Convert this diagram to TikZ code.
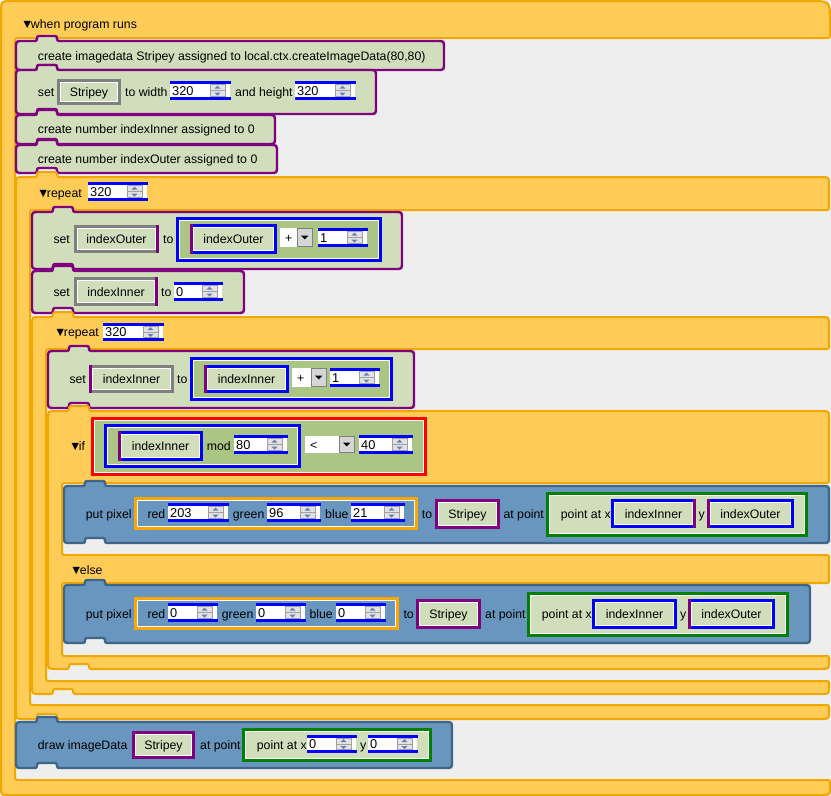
\documentclass[tikz,border=0pt]{standalone}
\usepackage{fontspec}
\setmainfont{Liberation Sans}
\newfontfamily\lsans{Liberation Sans}
\newcommand\blkfont{\lsans\fontsize{12.3}{14}\selectfont}
\newcommand\numfont{\lsans\fontsize{12.8}{14}\selectfont}
\newcommand\trifont{\lsans\fontsize{12.5}{14}\selectfont}
\newcommand\tri{{\trifont ▼\kern-2.6pt}}

\definecolor{bgc}{HTML}{EEEEEE}
\definecolor{orfill}{HTML}{FFCC57}
\definecolor{orline}{HTML}{F0A800}
\definecolor{stfill}{HTML}{D0DEBC}
\definecolor{purp}{HTML}{800080}
\definecolor{blfill}{HTML}{6896BE}
\definecolor{blline}{HTML}{3F6588}
\definecolor{opfill}{HTML}{AAC584}
\definecolor{sgray}{HTML}{808080}
\definecolor{sblue}{HTML}{0000FF}
\definecolor{sred}{HTML}{FF0000}
\definecolor{sorange}{HTML}{FFA500}
\definecolor{sgreen}{HTML}{008000}
\definecolor{arrc}{HTML}{6A7DB4}
\definecolor{btnfill}{HTML}{E2E2E2}
\definecolor{btnline}{HTML}{A0A0A0}
\definecolor{ddfill}{HTML}{D6D6D6}

% statement block with top tab and bottom notch: style, x1, y1, x2, y2
\newcommand\stmt[5]{%
  \draw[#1] (#2,{#3+9}) .. controls (#2,#3) .. ({#2+9},#3)
    -- ({#2+21},#3) -- ({#2+21},{#3-5}) -- ({#2+41},{#3-5}) -- ({#2+41},#3)
    -- ({#4-9},#3) .. controls (#4,#3) .. (#4,{#3+9})
    -- (#4,{#5-9}) .. controls (#4,#5) .. ({#4-9},#5)
    -- ({#2+41},#5) -- ({#2+41},{#5-5}) -- ({#2+21},{#5-5}) -- ({#2+21},#5)
    -- ({#2+9},#5) .. controls (#2,#5) .. (#2,{#5-9}) -- cycle;}

% C-shaped loop block: L, T, R, arm inner x, header bottom, footer top, bottom
\newcommand\cblk[7]{%
  \draw[orblk] (#1,{#2+10}) .. controls (#1,#2) .. ({#1+10},#2)
    -- ({#1+21},#2) -- ({#1+21},{#2-5}) -- ({#1+41},{#2-5}) -- ({#1+41},#2)
    -- ({#3-10},#2) .. controls (#3,#2) .. (#3,{#2+10}) -- (#3,#5)
    -- ({#4+7},#5) .. controls (#4,#5) .. (#4,{#5+7})
    -- (#4,{#6-7}) .. controls (#4,#6) .. ({#4+7},#6)
    -- (#3,#6) -- (#3,{#7-10}) .. controls (#3,#7) .. ({#3-10},#7)
    -- ({#1+41},#7) -- ({#1+41},{#7-5}) -- ({#1+21},{#7-5}) -- ({#1+21},#7)
    -- ({#1+10},#7) .. controls (#1,#7) .. (#1,{#7-10}) -- cycle;}

% framed slot with a white inner rule: x1, y1, x2, y2, frame colour, fill
\newcommand\ibox[6]{%
  \draw[draw=#5, fill=#6, line width=3] ({#1+1.5},{#2+1.5}) rectangle ({#3-1.5},{#4-1.5});
  \draw[white, line width=1] ({#1+3.5},{#2+3.5}) rectangle ({#3-3.5},{#4-3.5});}

% variable slot: name, x1, y1, x2, y2, frame colour, text
\newcommand\varb[7]{%
  \ibox{#2}{#3}{#4}{#5}{#6}{stfill}
  \node[ctr] (#1) at ({(#2+#4)/2},{(#3+#5)/2+4.5}) {#7};}
\newcommand\purl[3]{\draw[purp, line width=3] ({#1+1.5},#2) -- ({#1+1.5},#3);}
\newcommand\purr[3]{\draw[purp, line width=3] ({#1-1.5},#2) -- ({#1-1.5},#3);}

% number spinner: name, x1, y1, x2, y2, value
\newcommand\spin[6]{%
  \fill[white] (#2,#3) rectangle ({#4-1},#5);
  \draw[fill=btnfill, draw=btnline, line width=0.8] ({#4-21},{#3+3.5}) rectangle ({#4-6},{#5-3.5});
  \draw[btnline, line width=0.8] ({#4-21},{(#3+#5)/2}) -- ({#4-6},{(#3+#5)/2});
  \fill[arrc] ({#4-16.5},{(#3+#5)/2-2}) -- ({#4-10.5},{(#3+#5)/2-2}) -- ({#4-13.5},{(#3+#5)/2-5}) -- cycle;
  \fill[arrc] ({#4-16.5},{(#3+#5)/2+2}) -- ({#4-10.5},{(#3+#5)/2+2}) -- ({#4-13.5},{(#3+#5)/2+5}) -- cycle;
  \fill[sblue] (#2,#3) rectangle (#4,{#3+3});
  \fill[sblue] (#2,{#5-3}) rectangle (#4,#5);
  \node[numl] (#1) at ({#2+2},{(#3+#5)/2+4.7}) {#6};}

% operator drop-down: name, x1, y1, x2, y2, symbol
\newcommand\drop[6]{%
  \fill[white] (#2,#3) rectangle (#4,#5);
  \draw[fill=ddfill, draw=sgray, line width=1] ({#4-16},{#3+0.5}) rectangle ({#4-0.5},{#5-0.5});
  \fill[black] ({#4-11.8},{(#3+#5)/2-1.8}) -- ({#4-4.7},{(#3+#5)/2-1.8}) -- ({#4-8.25},{(#3+#5)/2+1.8}) -- cycle;
  \node[lbl] (#1) at ({#2+5},{(#3+#5)/2+4.5}) {#6};}

% text label: name, x, y of text centre, text
\newcommand\lab[4]{\node[lbl] (#1) at (#2,{#3+4.5}) {#4};}

\begin{document}
\begin{tikzpicture}[x=1pt, y=-1pt,
  orblk/.style={fill=orfill, draw=orline, line width=2, rounded corners=2},
  stblk/.style={fill=stfill, draw=purp, line width=2.4, rounded corners=2},
  blblk/.style={fill=blfill, draw=blline, line width=2.4, rounded corners=2},
  lbl/.style={anchor=base west, inner sep=0, font=\blkfont},
  numl/.style={anchor=base west, inner sep=0, font=\numfont},
  ctr/.style={anchor=base, inner sep=0, font=\blkfont}]
\useasboundingbox (0,0) rectangle (831,796);
\fill[bgc] (0,0) rectangle (831,796);

% ---- hat block: when program runs
\draw[orblk] (1,15) .. controls (1,1) .. (15,1) -- (808,1) .. controls (830,1) .. (830,23)
  -- (830,38) -- (22,38) .. controls (15,38) .. (15,45) -- (15,773) .. controls (15,780) .. (22,780)
  -- (830,780) -- (830,785) .. controls (830,795) .. (820,795) -- (11,795) .. controls (1,795) .. (1,785) -- cycle;
\lab{hat}{21}{24}{\tri when program runs}

% ---- declarations
\stmt{stblk}{16}{41}{444}{70}
\lab{mkimg}{37.7}{55.5}{create imagedata Stripey assigned to local.ctx.createImageData(80,80)}

\stmt{stblk}{16}{70}{376}{114}
\lab{setw}{37.7}{92}{set}
\varb{setwvar}{57}{79}{121}{105}{sgray}{Stripey}
\lab{setwto}{125}{92}{to width}
\spin{wval}{170}{81}{231}{100}{320}
\lab{seth}{235}{92}{and height}
\spin{hval}{295}{81}{356}{100}{320}

\stmt{stblk}{16}{115}{275}{144}
\lab{mkinner}{37.7}{129}{create number indexInner assigned to 0}
\stmt{stblk}{16}{145}{277}{173}
\lab{mkouter}{37.7}{159}{create number indexOuter assigned to 0}

% ---- outer repeat
\cblk{16}{177}{829}{30}{210}{705}{719}
\lab{rep1}{37}{193}{\tri repeat}
\spin{rep1n}{88}{182}{148}{201}{320}

\stmt{stblk}{32}{212}{402}{269}
\lab{so}{53.3}{239}{set}
\varb{sovar}{74}{225}{159}{253}{sgray}{indexOuter}
\purr{159}{225}{253}
\lab{soto}{163}{239}{to}
\ibox{176}{217}{382}{262}{sblue}{opfill}
\varb{soarg}{190}{224}{277}{254}{sblue}{indexOuter}
\purl{190}{224}{254}
\drop{soop}{280}{228}{313}{247}{+}
\spin{soinc}{318}{228}{368}{247}{1}

\stmt{stblk}{32}{271}{244}{313}
\lab{si}{53.3}{291.5}{set}
\varb{sivar}{74}{277}{158}{306}{sgray}{indexInner}
\purr{158}{277}{306}
\lab{sito}{161}{291.5}{to}
\spin{sival}{174}{282}{223}{301}{0}

% ---- inner repeat
\cblk{32}{317}{829}{46}{349}{681}{694}
\lab{rep2}{54}{332}{\tri repeat}
\spin{rep2n}{103}{323}{164}{341}{320}

\stmt{stblk}{48}{351}{414}{408}
\lab{sii}{69.3}{378.5}{set}
\varb{siivar}{89}{365}{174}{393}{sgray}{indexInner}
\purl{89}{365}{393}
\lab{siito}{177}{378.5}{to}
\ibox{190}{357}{393}{401}{sblue}{opfill}
\varb{siiarg}{204}{365}{289}{393}{sblue}{indexInner}
\purl{204}{365}{393}
\drop{siiop}{292}{368}{327}{387}{+}
\spin{siiinc}{330}{368}{380}{387}{1}

% ---- if / else block
\draw[orblk] (48,421) .. controls (48,411) .. (58,411)
  -- (69,411) -- (69,406) -- (89,406) -- (89,411)
  -- (819,411) .. controls (829,411) .. (829,421) -- (829,483)
  -- (69,483) .. controls (62,483) .. (62,490) -- (62,548) .. controls (62,555) .. (69,555)
  -- (829,555) -- (829,583)
  -- (69,583) .. controls (62,583) .. (62,590) -- (62,649) .. controls (62,656) .. (69,656)
  -- (829,656) -- (829,659) .. controls (829,669) .. (819,669)
  -- (89,669) -- (89,664) -- (69,664) -- (69,669)
  -- (58,669) .. controls (48,669) .. (48,659) -- cycle;
\lab{iflab}{69}{445.5}{\tri if}
\ibox{91}{417}{427}{476}{sred}{opfill}
\ibox{104}{424}{301}{468}{sblue}{opfill}
\varb{condvar}{118}{431}{203}{461}{sblue}{indexInner}
\purl{118}{431}{461}
\lab{modlab}{206.7}{446}{mod}
\spin{modn}{234}{435}{288}{454}{80}
\drop{cmpop}{305}{436}{355}{453}{<}
\spin{cmpn}{359}{435}{413}{454}{40}
\lab{elselab}{70}{569.5}{\tri else}

% ---- put pixel (then branch)
\stmt{blblk}{64}{486}{829}{543}
\lab{pp1}{85.7}{514}{put pixel}
\ibox{134}{497}{418}{530}{sorange}{blfill}
\lab{pp1r}{147.3}{514}{red}
\spin{pp1rv}{168}{503}{229}{522}{203}
\lab{pp1g}{232.7}{514}{green}
\spin{pp1gv}{267}{503}{321}{522}{96}
\lab{pp1b}{325}{514}{blue}
\spin{pp1bv}{351}{503}{405}{522}{21}
\lab{pp1to}{421.7}{514}{to}
\varb{pp1img}{435}{499}{500}{529}{purp}{Stripey}
\lab{pp1at}{503.3}{514}{at point}
\ibox{546}{492}{808}{537}{sgreen}{stfill}
\lab{pp1pt}{560.7}{514}{point at x}
\varb{pp1x}{611}{499}{696}{528}{sblue}{indexInner}
\purr{696}{499}{528}
\lab{pp1y}{698.5}{514}{y}
\varb{pp1yv}{707}{499}{794}{528}{sblue}{indexOuter}
\purl{707}{499}{528}

% ---- put pixel (else branch)
\stmt{blblk}{64}{585}{810}{643}
\lab{pp2}{85.7}{614}{put pixel}
\ibox{134}{597}{399}{630}{sorange}{blfill}
\lab{pp2r}{147.3}{614}{red}
\spin{pp2rv}{168}{603}{218}{622}{0}
\lab{pp2g}{221.7}{614}{green}
\spin{pp2gv}{256}{603}{306}{622}{0}
\lab{pp2b}{309.3}{614}{blue}
\spin{pp2bv}{336}{603}{386}{622}{0}
\lab{pp2to}{403.3}{614}{to}
\varb{pp2img}{416}{599}{481}{629}{purp}{Stripey}
\lab{pp2at}{485}{614}{at point}
\ibox{527}{592}{789}{637}{sgreen}{stfill}
\lab{pp2pt}{541.7}{614}{point at x}
\varb{pp2x}{592}{599}{677}{629}{sblue}{indexInner}
\lab{pp2y}{680}{614}{y}
\varb{pp2yv}{688}{599}{775}{629}{sblue}{indexOuter}
\purl{688}{599}{629}

% ---- draw imageData
\stmt{blblk}{16}{722}{452}{768}
\lab{drw}{37.7}{745}{draw imageData}
\varb{drwimg}{132}{731}{195}{759}{purp}{Stripey}
\lab{drwat}{200}{745}{at point}
\ibox{242}{728}{432}{762}{sgreen}{stfill}
\lab{drwpt}{256.7}{745}{point at x}
\spin{drwx}{307}{735}{357}{753}{0}
\lab{drwy}{360}{745}{y}
\spin{drwyv}{368}{735}{418}{753}{0}
\end{tikzpicture}
\end{document}
